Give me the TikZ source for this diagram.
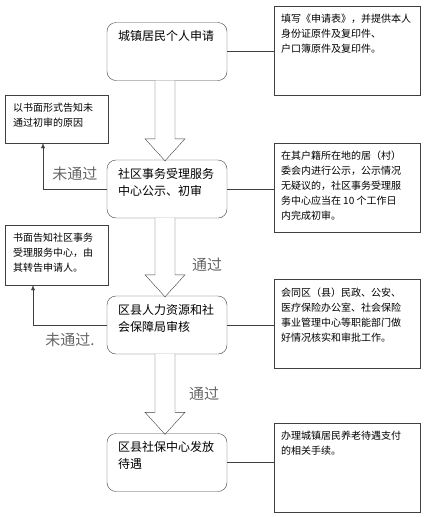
\documentclass[tikz,border=0pt]{standalone}
\usepackage{fontspec}
\setmainfont{Noto Sans CJK SC}
\usetikzlibrary{arrows.meta,calc}
\newcommand{\toptext}[3]{\parbox[c][#1][t]{#2}{\raggedright #3}}
% hollow block arrow from one stage box down to the next
\newcommand{\passarrow}[2]{%
  \draw[hollow] let \p1=([xshift=-2pt]#1.south), \p2=([yshift=-1pt]#2.north) in
    (\x1-10pt,\y1) -- (\x1-10pt,\y2+22pt) -- (\x1-20pt,\y2+22pt) -- (\x1,\y2)
    -- (\x1+20pt,\y2+22pt) -- (\x1+10pt,\y2+22pt) -- (\x1+10pt,\y1);}

\begin{document}
\begin{tikzpicture}[x=1pt, y=-1pt, >={Latex[length=5pt,width=4pt]},
  stagebox/.style={draw=black!75, rounded corners=9pt, inner xsep=11pt, inner ysep=8pt,
    font=\fontsize{12}{17}\selectfont},
  notebox/.style={draw=black!75, inner xsep=7pt, inner ysep=8pt,
    font=\fontsize{10}{15}\selectfont},
  hollow/.style={draw=black!75, fill=white, line join=miter},
  link/.style={draw=black!75},
  fail/.style={draw=black!75, ->},
  verdict/.style={text=black!60, font=\fontsize{15}{15}\selectfont}]
  \useasboundingbox (0,0) rectangle (425,517);

  % stages
  \node[stagebox] (apply) at (167,51.5) {\toptext{42pt}{98pt}{城镇居民个人申请}};
  \node[stagebox] (review) at (167,189) {\toptext{42pt}{98pt}{社区事务受理服务\\中心公示、初审}};
  \node[stagebox] (audit) at (167,325) {\toptext{42pt}{98pt}{区县人力资源和社\\会保障局审核}};
  \node[stagebox] (pay) at (167,462.5) {\toptext{42pt}{98pt}{区县社保中心发放\\待遇}};

  % notes on the right
  \node[notebox] (applynote) at (347,50.5) {\toptext{73pt}{132pt}{填写《申请表》，并提供本人\\身份证原件及复印件、\\户口簿原件及复印件。}};
  \node[notebox] (reviewnote) at (347,187.5) {\toptext{73pt}{132pt}{在其户籍所在地的居（村）\\委会内进行公示，公示情况\\无疑议的，社区事务受理服\\务中心应当在 10 个工作日\\内完成初审。}};
  \node[notebox] (auditnote) at (347,324) {\toptext{73pt}{132pt}{会同区（县）民政、公安、\\医疗保险办公室、社会保险\\事业管理中心等职能部门做\\好情况核实和审批工作。}};
  \node[notebox] (paynote) at (347,468) {\toptext{73pt}{132pt}{办理城镇居民养老待遇支付\\的相关手续。}};

  % notes on the left
  \node[notebox, inner xsep=8pt] (rejectone) at (56.5,119) {\toptext{32pt}{87pt}{以书面形式告知未\\通过初审的原因}};
  \node[notebox, inner xsep=8pt] (rejecttwo) at (56.5,255) {\toptext{44pt}{87pt}{书面告知社区事务\\受理服务中心，由\\其转告申请人。}};

  % links to the notes
  \foreach \s/\n in {apply/applynote, review/reviewnote, audit/auditnote, pay/paynote}
    \draw[link] (\s.east) -- (\s.east -| \n.west);

  % main flow
  \passarrow{apply}{review}
  \passarrow{review}{audit}
  \passarrow{audit}{pay}
  \node[verdict] (passone) at (207,265) {通过};
  \node[verdict] (passtwo) at (204,394) {通过};

  % rejections
  \draw[fail] (review.west) -| ([xshift=-13.5pt]rejectone.south)
    node[verdict, pos=0.25, above=5pt] (failone) {未通过};
  \draw[fail] (audit.west) -| ([xshift=-23.5pt]rejecttwo.south)
    node[verdict, pos=0.25, below=4pt] (failtwo) {未通过.};
\end{tikzpicture}
\end{document}
